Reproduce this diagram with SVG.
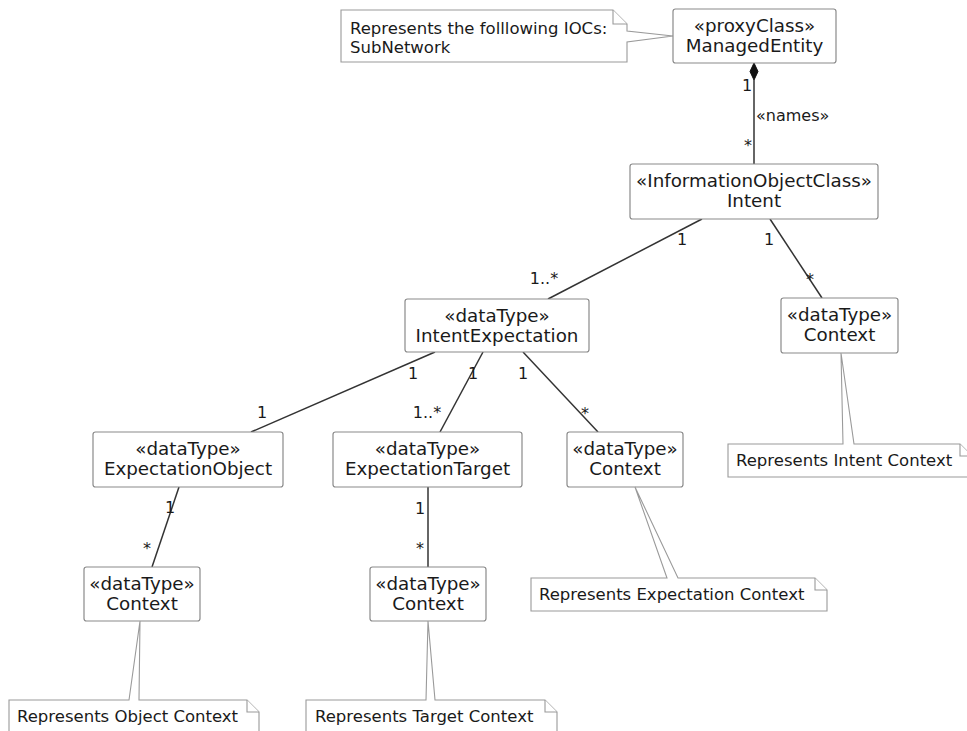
<svg xmlns="http://www.w3.org/2000/svg" width="967" height="731" viewBox="0 0 967 731">
<style>
.box{fill:#fff;stroke:#8a8a8a;stroke-width:1.2}
.cls{font-family:"DejaVu Sans",sans-serif;font-size:18.3px;fill:#1a1a1a;text-anchor:middle}
.note{fill:#fff;stroke:#9a9a9a;stroke-width:1.1}
.ntxt{font-family:"DejaVu Sans",sans-serif;font-size:16.5px;fill:#1a1a1a}
.ln{stroke:#333;stroke-width:1.5;fill:none}
.lbl{font-family:"DejaVu Sans",sans-serif;font-size:16px;fill:#1a1a1a;text-anchor:middle}
</style>
<rect width="967" height="731" fill="#fff"/>
<g id="connectors">
<line class="ln" x1="754" y1="80" x2="754" y2="164"/>
<polygon points="754,63 750,71.5 754,80 758,71.5" fill="#111" stroke="#111" stroke-width="1"/>
<line class="ln" x1="702" y1="219" x2="548" y2="299"/>
<line class="ln" x1="770" y1="219" x2="822" y2="298"/>
<line class="ln" x1="435" y1="352" x2="251" y2="432"/>
<line class="ln" x1="483" y1="352" x2="440" y2="432"/>
<line class="ln" x1="523" y1="352" x2="598" y2="432"/>
<line class="ln" x1="179" y1="487" x2="152" y2="567"/>
<line class="ln" x1="428" y1="487" x2="428" y2="567"/>
<text class="lbl" x="747" y="91">1</text>
<text class="lbl" x="756" y="121" text-anchor="start" style="text-anchor:start">«names»</text>
<text class="lbl" x="748" y="151">*</text>
<text class="lbl" x="682" y="245">1</text>
<text class="lbl" x="769" y="245">1</text>
<text class="lbl" x="544" y="284">1..*</text>
<text class="lbl" x="810" y="285">*</text>
<text class="lbl" x="413" y="379">1</text>
<text class="lbl" x="473" y="379">1</text>
<text class="lbl" x="523" y="379">1</text>
<text class="lbl" x="262" y="418">1</text>
<text class="lbl" x="427" y="418">1..*</text>
<text class="lbl" x="585" y="419">*</text>
<text class="lbl" x="170" y="513">1</text>
<text class="lbl" x="147" y="554">*</text>
<text class="lbl" x="420" y="514">1</text>
<text class="lbl" x="420" y="554">*</text>
</g>
<g id="note-subnetwork">
<path class="note" d="M341,10 H613 L627,24 V31 L673,36 L627,42 V62 H341 Z"/>
<path class="note" d="M613,10 V24 H627" fill="none"/>
<text class="ntxt" x="350" y="34">Represents the folllowing IOCs:</text>
<text class="ntxt" x="350" y="53">SubNetwork</text>
</g>
<g id="ManagedEntity">
<rect class="box" x="673" y="9" width="163" height="54" rx="2.5"/>
<text class="cls" x="754.5" y="32">«proxyClass»</text>
<text class="cls" x="754.5" y="52">ManagedEntity</text>
</g>
<g id="Intent">
<rect class="box" x="630" y="164" width="248" height="55" rx="2.5"/>
<text class="cls" x="754" y="187">«InformationObjectClass»</text>
<text class="cls" x="754" y="207">Intent</text>
</g>
<g id="IntentExpectation">
<rect class="box" x="405" y="299" width="184" height="53" rx="2.5"/>
<text class="cls" x="497" y="322">«dataType»</text>
<text class="cls" x="497" y="342">IntentExpectation</text>
</g>
<g id="IntentContext">
<rect class="box" x="781" y="298" width="117" height="55" rx="2.5"/>
<text class="cls" x="839.5" y="321">«dataType»</text>
<text class="cls" x="839.5" y="341">Context</text>
</g>
<g id="note-intent-context">
<path class="note" d="M728,444 H843 L841,353 L854,444 H960 L972,456 V477 H728 Z"/>
<path class="note" d="M960,444 V456 H972" fill="none"/>
<text class="ntxt" x="736" y="466">Represents Intent Context</text>
</g>
<g id="ExpectationObject">
<rect class="box" x="93" y="432" width="190" height="55" rx="2.5"/>
<text class="cls" x="188" y="455">«dataType»</text>
<text class="cls" x="188" y="475">ExpectationObject</text>
</g>
<g id="ExpectationTarget">
<rect class="box" x="333" y="432" width="189" height="55" rx="2.5"/>
<text class="cls" x="427.5" y="455">«dataType»</text>
<text class="cls" x="427.5" y="475">ExpectationTarget</text>
</g>
<g id="ExpectationContext">
<rect class="box" x="567" y="432" width="116" height="55" rx="2.5"/>
<text class="cls" x="625" y="455">«dataType»</text>
<text class="cls" x="625" y="475">Context</text>
</g>
<g id="note-expectation-context">
<path class="note" d="M531,578 H667 L635,487 L678,578 H815 L827,590 V611 H531 Z"/>
<path class="note" d="M815,578 V590 H827" fill="none"/>
<text class="ntxt" x="539" y="600">Represents Expectation Context</text>
</g>
<g id="ObjectContext">
<rect class="box" x="84" y="567" width="116" height="54" rx="2.5"/>
<text class="cls" x="142" y="590">«dataType»</text>
<text class="cls" x="142" y="610">Context</text>
</g>
<g id="note-object-context">
<path class="note" d="M9,700 H129 L140,621 L139,700 H247 L259,712 V745 H9 Z"/>
<path class="note" d="M247,700 V712 H259" fill="none"/>
<text class="ntxt" x="17" y="722">Represents Object Context</text>
</g>
<g id="TargetContext">
<rect class="box" x="370" y="567" width="116" height="54" rx="2.5"/>
<text class="cls" x="428" y="590">«dataType»</text>
<text class="cls" x="428" y="610">Context</text>
</g>
<g id="note-target-context">
<path class="note" d="M306,700 H426 L428,621 L435,700 H545 L557,712 V745 H306 Z"/>
<path class="note" d="M545,700 V712 H557" fill="none"/>
<text class="ntxt" x="315" y="722">Represents Target Context</text>
</g>
</svg>
